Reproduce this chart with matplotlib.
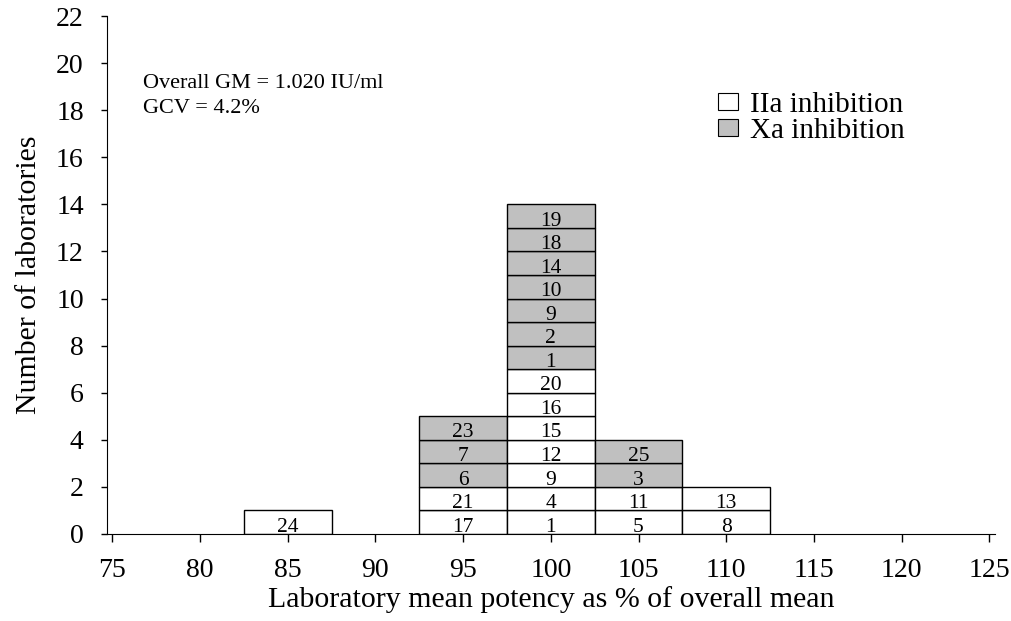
import matplotlib
matplotlib.use("Agg")
import matplotlib.pyplot as plt
from matplotlib.patches import Patch

plt.rcParams['font.family'] = ['Liberation Serif', 'DejaVu Serif']

# bin centres (% of overall mean) and the labs stacked in each bin, bottom to top
bin_centres = [85, 95, 100, 105, 110]
bin_labs = [
    ["24"],
    ["17", "21", "6", "7", "23"],
    ["1", "4", "9", "12", "15", "16", "20", "1", "2", "9", "10", "14", "18", "19"],
    ["5", "11", "3", "25"],
    ["8", "13"],
]
# method of each box: "IIa" or "Xa"
bin_methods = [
    ["IIa"],
    ["IIa", "IIa", "Xa", "Xa", "Xa"],
    ["IIa"] * 7 + ["Xa"] * 7,
    ["IIa", "IIa", "Xa", "Xa"],
    ["IIa", "IIa"],
]
bin_width = 5
colours = {"IIa": "white", "Xa": "#c0c0c0"}

fig = plt.figure(figsize=(10.11, 6.21), dpi=100)
ax = fig.add_axes([0.1055, 0.1401, 0.879, 0.8341])

for x, labs, methods in zip(bin_centres, bin_labs, bin_methods):
    for i, (lab, m) in enumerate(zip(labs, methods)):
        ax.bar(x, 1, width=bin_width, bottom=i, color=colours[m],
               edgecolor="black", linewidth=1)
        ax.text(x, i + 0.1, lab, ha="center", va="baseline", fontsize=15.5)

ax.set_xlim(74.68, 125.34)
ax.set_ylim(0, 22)
ax.set_xticks(range(75, 126, 5))
ax.set_yticks(range(0, 23, 2))
ax.spines["top"].set_visible(False)
ax.spines["right"].set_visible(False)
ax.tick_params(labelsize=20, direction="out", width=1)
ax.tick_params(axis="x", length=6, pad=11)
ax.tick_params(axis="y", length=4.5, pad=12)
ax.set_xlabel("Laboratory mean potency as % of overall mean", fontsize=21.5, labelpad=2.5)
ax.set_ylabel("Number of laboratories", fontsize=21.5, labelpad=10)

# summary stats
ax.text(0.041, 0.861, "Overall GM = 1.020 IU/ml", transform=ax.transAxes,
        fontsize=16, va="baseline", ha="left")
ax.text(0.041, 0.813, "GCV = 4.2%", transform=ax.transAxes,
        fontsize=16, va="baseline", ha="left")

handles = [Patch(facecolor="white", edgecolor="black", linewidth=0.8),
           Patch(facecolor="#c0c0c0", edgecolor="black", linewidth=0.8)]
ax.legend(handles, ["IIa inhibition", "Xa inhibition"], loc="upper left",
          bbox_to_anchor=(0.688, 0.853), frameon=False, fontsize=21,
          handlelength=0.7, handleheight=0.5, handletextpad=0.38,
          labelspacing=0.0, borderpad=0, borderaxespad=0)

fig.savefig("out.png", dpi=100)
